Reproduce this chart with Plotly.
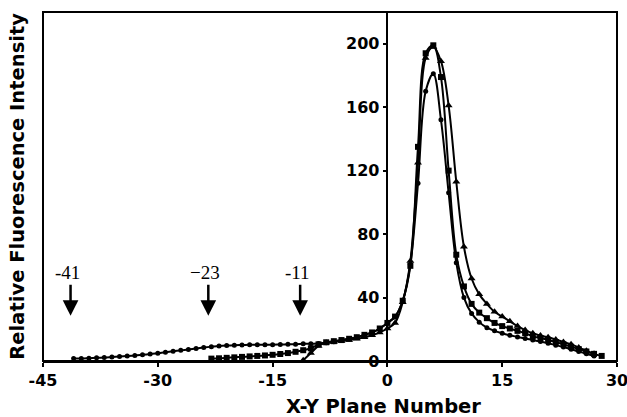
import plotly.graph_objects as go

# Series A (small round markers), planes -41 .. 27
x_a = list(range(-41, 28))
y_a = [1.5, 1.6, 1.8, 2.0, 2.2, 2.5, 2.8, 3.1, 3.5, 3.9, 4.4, 4.9, 5.5, 6.1, 6.7, 7.3, 7.9, 8.5, 9.0,
       9.5, 9.8, 10.0, 10.1, 10.2, 10.2, 10.3, 10.3, 10.4, 10.5, 10.6, 10.8, 10.9,
       11.0, 11.5, 12.2, 13.0, 14.0, 15.0, 16.5, 18.0, 20.5, 24.0,
       28.0, 38.0, 61.0, 112.0, 170.0, 181.0, 152.0, 106.0, 62.0, 40.0,
       30.0, 24.5, 21.0, 19.0, 17.5, 16.2, 15.2, 14.2, 13.2, 12.3,
       11.2, 10.0, 8.8, 7.4, 6.0, 4.6, 3.2]

# Series B (squares), planes -23 .. 28
x_b = list(range(-23, 29))
y_b = [1.5, 1.7, 2.0, 2.3, 2.6, 2.9, 3.2, 3.5, 3.9, 4.4, 5.0, 5.8, 6.8, 8.0,
       10.5, 11.8, 12.5, 13.2, 14.0, 15.0, 16.5, 18.0, 20.5, 24.0,
       28.0, 38.0, 60.0, 135.0, 194.0, 199.0, 179.0, 120.0, 67.0, 47.0,
       36.0, 30.5, 27.0, 24.0, 22.0, 20.5, 19.0, 17.5, 15.5, 14.5,
       13.3, 12.0, 10.5, 9.0, 7.5, 6.0, 4.5, 3.2]

# Series C (triangles), planes -11 .. 27
x_c = list(range(-11, 28))
y_c = [0.5, 5.0, 9.5, 11.5, 12.0, 12.6, 13.3, 14.0, 15.0, 16.2, 18.0, 20.5,
       24.0, 37.0, 63.0, 125.0, 191.0, 198.0, 189.0, 161.0, 113.0, 72.0,
       52.0, 42.0, 36.0, 31.0, 28.0, 25.0, 22.0, 19.5, 17.5, 16.0,
       15.0, 13.5, 12.0, 10.5, 8.5, 6.5, 4.5]

x_ticks = [-45, -30, -15, 0, 15, 30]
y_ticks = [0, 40, 80, 120, 160, 200]

arrow_planes = [-41, -23, -11]
arrow_labels = ["-41", "\u221223", "-11"]

fig = go.Figure()

line_style = dict(color="black", width=2, shape="spline", smoothing=1.0)
fig.add_trace(go.Scatter(x=x_a, y=y_a, mode="lines+markers", line=line_style,
                         marker=dict(symbol="circle", size=5, color="black"), showlegend=False))
fig.add_trace(go.Scatter(x=x_b, y=y_b, mode="lines+markers", line=line_style,
                         marker=dict(symbol="square", size=6, color="black"), showlegend=False))
fig.add_trace(go.Scatter(x=x_c, y=y_c, mode="lines+markers", line=line_style,
                         marker=dict(symbol="triangle-up", size=7, color="black"), showlegend=False))

for p, lab in zip(arrow_planes, arrow_labels):
    fig.add_annotation(x=p - 0.4, y=28.5, ax=p - 0.4, ay=49, xref="x", yref="y",
                       axref="x", ayref="y", text="", showarrow=True,
                       arrowhead=2, arrowsize=1.25, arrowwidth=2.5, arrowcolor="black")
    fig.add_annotation(x=p - 0.4, y=55.5, xref="x", yref="y", text=lab, showarrow=False,
                       xshift=-3, font=dict(family="Liberation Serif", size=19, color="black"))

fig.add_shape(type="rect", xref="paper", yref="paper", x0=0, y0=0, x1=1, y1=1,
              line=dict(color="black", width=2))

axis_font = dict(family="DejaVu Sans", size=16, color="black", weight="bold")
title_font = dict(family="DejaVu Sans", size=19.5, color="black", weight="bold")

fig.update_layout(
    width=627, height=417,
    margin=dict(l=43, r=10, t=12, b=56),
    paper_bgcolor="white", plot_bgcolor="white",
    xaxis=dict(range=[-45, 30], tickvals=x_ticks, ticktext=[str(v) for v in x_ticks],
               showgrid=False, zeroline=False, showline=True, linecolor="black", linewidth=2,
               ticks="outside", ticklen=4, tickwidth=1.5, tickcolor="black",
               tickfont=axis_font, ticklabeloverflow="allow", automargin=False),
    yaxis=dict(range=[0, 220], tickvals=y_ticks, ticktext=[str(v) for v in y_ticks],
               anchor="free", position=0.6, automargin=False,
               showgrid=False, zeroline=False, showline=True, linecolor="black", linewidth=1.5,
               ticks="outside", ticklen=4, tickwidth=1.5, tickcolor="black",
               tickfont=axis_font),
)

# X axis title, centred under the zero line region as in the original
fig.add_annotation(x=-0.5, y=0, xref="x", yref="paper", xanchor="center", yanchor="middle",
                   text="X-Y Plane Number", showarrow=False, font=title_font, yshift=-45)

fig.add_annotation(x=-0.045, y=0.5, xref="paper", yref="paper", xanchor="center", yanchor="middle",
                   text="Relative Fluorescence Intensity", textangle=-90, showarrow=False,
                   font=title_font, xshift=0)

fig.write_html("out.html")
